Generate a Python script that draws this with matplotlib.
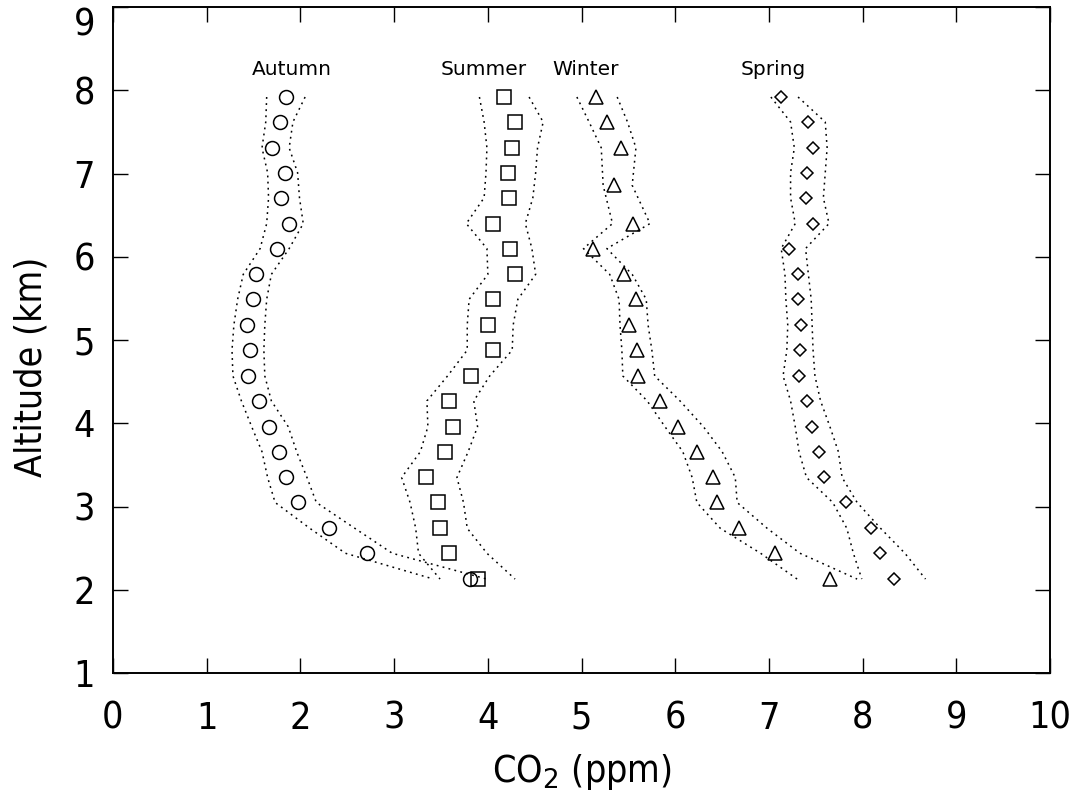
import matplotlib
matplotlib.use("Agg")
import matplotlib.pyplot as plt
from matplotlib import font_manager as fm

# ---------------- data ----------------
alt = [7.92, 7.62, 7.31, 7.01, 6.71, 6.40, 6.10, 5.79, 5.49, 5.18,
       4.88, 4.57, 4.27, 3.96, 3.66, 3.35, 3.05, 2.74, 2.44, 2.13]
alt_winter = [7.92, 7.62, 7.31, 6.86, 6.40, 6.10, 5.79, 5.49, 5.18,
              4.88, 4.57, 4.27, 3.96, 3.66, 3.35, 3.05, 2.74, 2.44, 2.13]

autumn = [1.85, 1.78, 1.70, 1.84, 1.79, 1.88, 1.75, 1.53, 1.49, 1.43,
          1.46, 1.44, 1.56, 1.66, 1.77, 1.85, 1.97, 2.31, 2.71, 3.81]
autumn_lo = [1.64, 1.63, 1.59, 1.65, 1.66, 1.64, 1.57, 1.39, 1.33, 1.29,
             1.27, 1.28, 1.37, 1.48, 1.59, 1.65, 1.73, 2.10, 2.48, 3.42]
autumn_hi = [2.05, 1.92, 1.88, 1.97, 1.99, 2.03, 1.88, 1.69, 1.64, 1.62,
             1.61, 1.62, 1.69, 1.87, 1.96, 2.07, 2.17, 2.58, 2.98, 3.99]

summer = [4.17, 4.29, 4.26, 4.22, 4.23, 4.06, 4.24, 4.29, 4.06, 4.00,
          4.05, 3.82, 3.59, 3.63, 3.54, 3.34, 3.47, 3.49, 3.59, 3.89]
summer_lo = [3.91, 3.96, 3.99, 3.98, 3.96, 3.77, 3.99, 4.00, 3.80, 3.78,
             3.78, 3.57, 3.35, 3.36, 3.28, 3.08, 3.17, 3.23, 3.26, 3.49]
summer_hi = [4.44, 4.59, 4.53, 4.51, 4.48, 4.40, 4.47, 4.51, 4.32, 4.27,
             4.26, 4.02, 3.85, 3.89, 3.79, 3.67, 3.74, 3.78, 3.99, 4.29]

winter = [5.15, 5.27, 5.42, 5.35, 5.55, 5.12, 5.45, 5.58, 5.51, 5.59,
          5.60, 5.84, 6.03, 6.23, 6.40, 6.44, 6.68, 7.06, 7.65]
winter_lo = [4.95, 5.08, 5.21, 5.23, 5.33, 5.02, 5.30, 5.40, 5.41, 5.43,
             5.44, 5.70, 5.89, 6.08, 6.18, 6.23, 6.48, 6.91, 7.30]
winter_hi = [5.38, 5.49, 5.58, 5.54, 5.73, 5.27, 5.54, 5.69, 5.71, 5.75,
             5.78, 6.05, 6.30, 6.50, 6.64, 6.66, 6.98, 7.33, 7.94]

spring = [7.13, 7.42, 7.47, 7.40, 7.39, 7.47, 7.21, 7.31, 7.31, 7.34,
          7.33, 7.32, 7.40, 7.46, 7.53, 7.59, 7.82, 8.09, 8.18, 8.33]
spring_lo = [7.02, 7.23, 7.27, 7.23, 7.23, 7.28, 7.13, 7.17, 7.18, 7.20,
             7.19, 7.15, 7.23, 7.28, 7.32, 7.40, 7.68, 7.83, 7.90, 7.99]
spring_hi = [7.31, 7.60, 7.62, 7.60, 7.58, 7.64, 7.39, 7.42, 7.45, 7.46,
             7.47, 7.49, 7.55, 7.65, 7.74, 7.78, 7.94, 8.19, 8.45, 8.67]

season_names = ["Autumn", "Summer", "Winter", "Spring"]
season_label_x = [1.91, 3.96, 5.04, 7.05]
season_label_y = 8.25

x_ticks = list(range(0, 11))
y_ticks = list(range(1, 10))

# ---------------- font: prefer a narrow, light face ----------------
def _w(v):
    try:
        return int(v)
    except (TypeError, ValueError):
        return {'ultralight': 100, 'light': 300, 'normal': 400, 'regular': 400,
                'book': 400, 'medium': 500, 'semibold': 600, 'bold': 700,
                'heavy': 800, 'black': 900}.get(str(v), 400)

light_narrow = None
for f in fm.fontManager.ttflist:
    if 'Condensed' in f.name or 'Narrow' in f.name or f.stretch in ('condensed', 'semi-condensed', 'extra-condensed'):
        if _w(f.weight) <= 400 and f.style == 'normal':
            light_narrow = (f.name, _w(f.weight), f.stretch)
            break

if light_narrow is not None:
    tick_fp = dict(family=[light_narrow[0], 'DejaVu Sans'], fontsize=27,
                   fontweight=light_narrow[1], fontstretch=light_narrow[2])
else:
    tick_fp = dict(family=['Liberation Sans', 'DejaVu Sans'], fontsize=27)

# ---------------- figure ----------------
fig = plt.figure(figsize=(10.76, 7.91), dpi=100)
ax = fig.add_axes([0.105, 0.149, 0.871, 0.842])

line_kw = dict(color='black', linewidth=1.1, linestyle=(0, (1.2, 2.8)))
mk_kw = dict(linestyle='none', markerfacecolor='none', markeredgecolor='black',
             markeredgewidth=1.1)

series = [
    (alt, autumn, autumn_lo, autumn_hi, 'o', 10),
    (alt, summer, summer_lo, summer_hi, 's', 9.5),
    (alt_winter, winter, winter_lo, winter_hi, '^', 10),
    (alt, spring, spring_lo, spring_hi, 'D', 6.3),
]
for a, m, lo, hi, mk, ms in series:
    ax.plot(lo, a, **line_kw)
    ax.plot(hi, a, **line_kw)
    ax.plot(m, a, marker=mk, markersize=ms, **mk_kw)

for name, xx in zip(season_names, season_label_x):
    ax.text(xx, season_label_y, name, ha='center', va='center',
            fontsize=14.5, family='DejaVu Sans')

ax.set_xlim(0, 10)
ax.set_ylim(1, 9)
ax.set_xticks(x_ticks)
ax.set_yticks(y_ticks)
ax.set_xticklabels([str(v) for v in x_ticks], **tick_fp)
ax.set_yticklabels([])
ax.tick_params(direction='in', length=10.5, width=1.0, top=True, right=True)
ax.tick_params(axis='x', pad=20)

# y tick labels placed as text so the top one stays inside the figure
ytr = ax.get_yaxis_transform()
for v in y_ticks:
    ax.text(-0.019, v, str(v), transform=ytr, ha='right',
            va='top' if v == y_ticks[-1] else 'center_baseline',
            **tick_fp)

for s in ax.spines.values():
    s.set_linewidth(1.4)

ax.set_xlabel(r'CO$_2$ (ppm)', **tick_fp)
ax.xaxis.set_label_coords(0.5, -0.118)
ax.set_ylabel('Altitude (km)', **tick_fp)
ax.yaxis.set_label_coords(-0.068, 0.46)

fig.savefig('out.png', dpi=100)
